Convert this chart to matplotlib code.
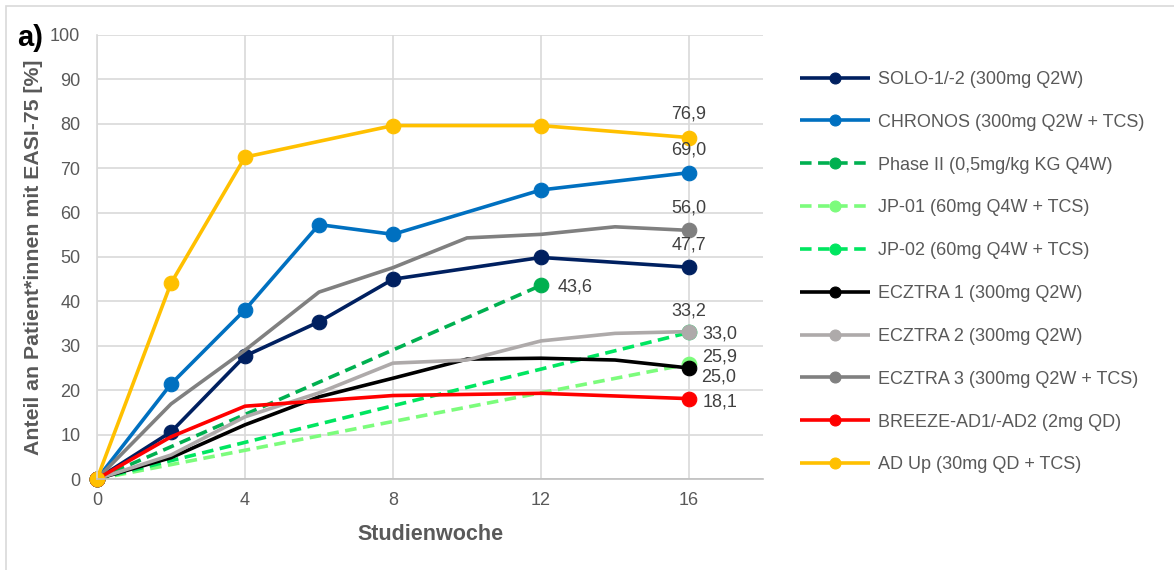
import matplotlib
matplotlib.use("Agg")
import matplotlib.pyplot as plt
from matplotlib.patches import Rectangle

plt.rcParams["font.family"] = ["Liberation Sans", "DejaVu Sans"]

# Study series: weeks and EASI-75 response rates (%)
solo_weeks = [0, 2, 4, 6, 8, 12, 16]
solo_vals = [0, 10.6, 27.7, 35.4, 45.0, 49.9, 47.7]

chronos_weeks = [0, 2, 4, 6, 8, 12, 16]
chronos_vals = [0, 21.4, 38.1, 57.3, 55.1, 65.1, 69.0]

phase2_weeks = [0, 12]
phase2_vals = [0, 43.6]

jp01_weeks = [0, 16]
jp01_vals = [0, 25.9]

jp02_weeks = [0, 16]
jp02_vals = [0, 33.0]

ecztra1_weeks = [0, 2, 4, 6, 8, 10, 12, 14, 16]
ecztra1_vals = [0, 4.8, 12.2, 18.5, 22.7, 27.0, 27.2, 26.8, 25.0]

ecztra2_weeks = [0, 2, 4, 6, 8, 10, 12, 14, 16]
ecztra2_vals = [0, 5.4, 14.0, 19.4, 26.1, 26.8, 31.1, 32.8, 33.2]

ecztra3_weeks = [0, 2, 4, 6, 8, 10, 12, 14, 16]
ecztra3_vals = [0, 16.9, 29.0, 42.1, 47.6, 54.3, 55.1, 56.8, 56.0]

breeze_weeks = [0, 2, 4, 8, 12, 16]
breeze_vals = [0, 9.5, 16.4, 18.8, 19.3, 18.1]

adup_weeks = [0, 2, 4, 8, 12, 16]
adup_vals = [0, 44.1, 72.5, 79.6, 79.6, 76.9]

series_labels = [
    "SOLO-1/-2 (300mg Q2W)",
    "CHRONOS (300mg Q2W + TCS)",
    "Phase II (0,5mg/kg KG Q4W)",
    "JP-01 (60mg Q4W + TCS)",
    "JP-02 (60mg Q4W + TCS)",
    "ECZTRA 1 (300mg Q2W)",
    "ECZTRA 2 (300mg Q2W)",
    "ECZTRA 3 (300mg Q2W + TCS)",
    "BREEZE-AD1/-AD2 (2mg QD)",
    "AD Up (30mg QD + TCS)",
]

x_ticks = [0, 4, 8, 12, 16]
y_ticks = list(range(0, 101, 10))

series = [
    (solo_weeks, solo_vals, "#002060", "-", "all"),
    (chronos_weeks, chronos_vals, "#0070C0", "-", "all"),
    (phase2_weeks, phase2_vals, "#00B050", "--", "ends"),
    (jp01_weeks, jp01_vals, "#7CFC7C", "--", "ends"),
    (jp02_weeks, jp02_vals, "#00E660", "--", "ends"),
    (ecztra1_weeks, ecztra1_vals, "#000000", "-", "ends"),
    (ecztra2_weeks, ecztra2_vals, "#AEAAAA", "-", "ends"),
    (ecztra3_weeks, ecztra3_vals, "#808080", "-", "ends"),
    (breeze_weeks, breeze_vals, "#FF0000", "-", "ends"),
    (adup_weeks, adup_vals, "#FFC000", "-", "all"),
]

W, H = 1174, 570
fig = plt.figure(figsize=(W / 100, H / 100), dpi=100)
ax = fig.add_axes([97 / W, 1 - 479 / H, (763 - 97) / W, (479 - 35) / H])

# outer frame of the figure
fig.patches.append(Rectangle((6 / W, -0.1), 1.2, 1 - 6 / H + 0.1,
                             transform=fig.transFigure, fill=False,
                             edgecolor="#d9d9d9", linewidth=1.2))

handles = []
for (wk, vals, col, ls, mk), lab in zip(series, series_labels):
    every = None if mk == "all" else [0, len(wk) - 1]
    line, = ax.plot(wk, vals, color=col, linestyle=ls, linewidth=2.6,
                    marker="o", markersize=10.5, markevery=every,
                    markeredgecolor=col, markeredgewidth=0.8, label=lab,
                    solid_capstyle="butt", dash_capstyle="butt", clip_on=False)
    if ls == "--":
        line.set_dashes((3.2, 1.8))
    handles.append(line)

# value labels at the last observed point
lab_col = "#404040"
fs_lab = 13
def value_label(x, y, txt, dx, dy, ha):
    ax.annotate(txt, (x, y), xytext=(dx, dy), textcoords="offset points",
                ha=ha, va="center", fontsize=fs_lab, color=lab_col)

value_label(adup_weeks[-1], adup_vals[-1], "76,9", 0, 17, "center")
value_label(chronos_weeks[-1], chronos_vals[-1], "69,0", 0, 16, "center")
value_label(ecztra3_weeks[-1], ecztra3_vals[-1], "56,0", 0, 16, "center")
value_label(solo_weeks[-1], solo_vals[-1], "47,7", 0, 16, "center")
value_label(phase2_weeks[-1], phase2_vals[-1], "43,6", 12, -1, "left")
value_label(ecztra2_weeks[-1], ecztra2_vals[-1], "33,2", 0, 15, "center")
value_label(jp02_weeks[-1], jp02_vals[-1], "33,0", 9.5, -1, "left")
value_label(jp01_weeks[-1], jp01_vals[-1], "25,9", 9.5, 5, "left")
value_label(ecztra1_weeks[-1], ecztra1_vals[-1], "25,0", 9, -6.5, "left")
value_label(breeze_weeks[-1], breeze_vals[-1], "18,1", 9.5, -2.5, "left")

ax.set_xlim(0, 18)
ax.set_ylim(0, 100)
ax.set_xticks(x_ticks)
ax.set_yticks(y_ticks)
ax.grid(True, color="#d9d9d9", linewidth=1.2)
ax.set_axisbelow(True)
for side in ["top", "right"]:
    ax.spines[side].set_visible(False)
ax.spines["left"].set_color("#d9d9d9")
ax.spines["left"].set_linewidth(1.2)
ax.spines["bottom"].set_color("#bfbfbf")
ax.spines["bottom"].set_linewidth(1.2)
ax.tick_params(length=0, labelsize=13, labelcolor="#595959")
ax.tick_params(axis="y", pad=12)
ax.tick_params(axis="x", pad=9.5)

ax.set_xlabel("Studienwoche", fontsize=15.5, fontweight="bold", color="#595959")
ax.xaxis.set_label_coords(0.5, -0.102)
ax.set_ylabel("Anteil an Patient*innen mit EASI-75 [%]", fontsize=15.3,
              fontweight="bold", color="#595959")
ax.yaxis.set_label_coords(-0.081, 0.5)

fig.text(30 / W, 1 - 38 / H, "a)", fontsize=21, fontweight="bold",
         ha="center", va="center", color="#000000")

fig.legend(handles=handles, loc="upper left",
           bbox_to_anchor=(800 / W, 1 - 71 / H), frameon=False,
           fontsize=13, labelcolor="#595959", handlelength=3.9,
           handletextpad=0.4, labelspacing=1.43, borderaxespad=0,
           borderpad=0, markerscale=0.75)

fig.savefig("out.png", dpi=100)
